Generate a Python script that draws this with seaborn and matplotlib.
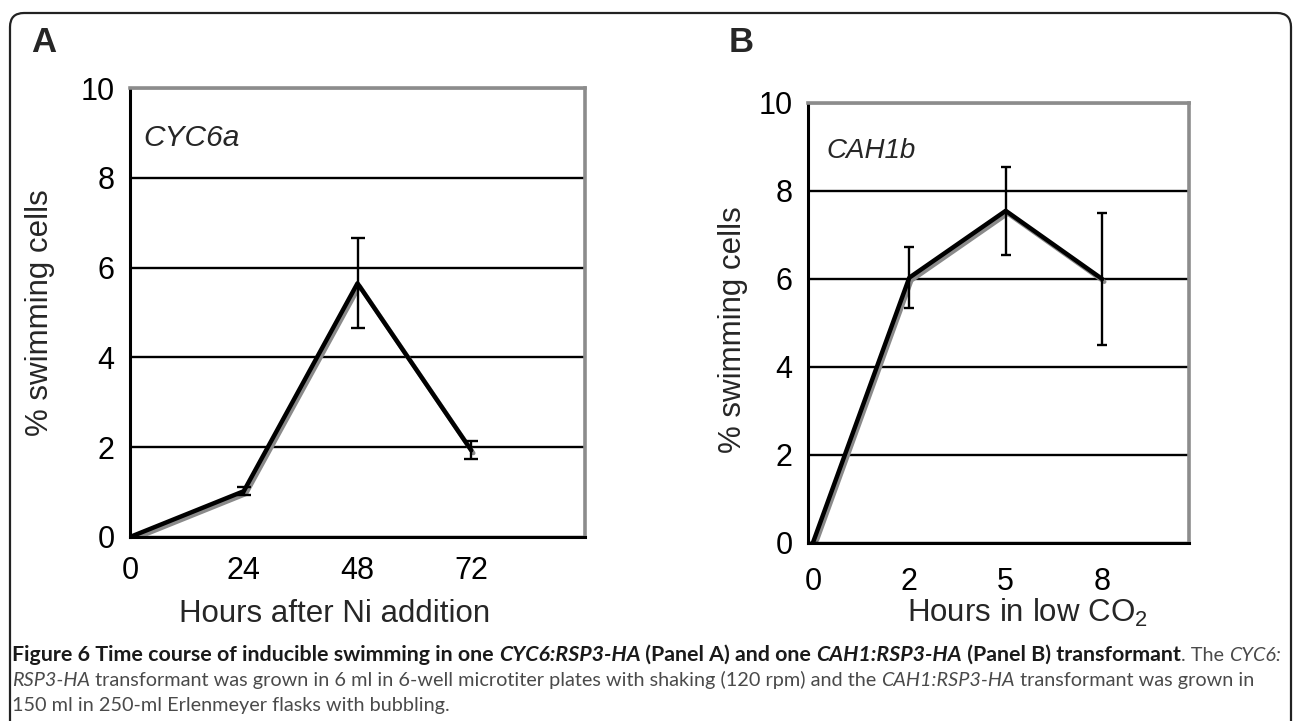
import numpy as np
import pandas as pd
import seaborn as sns
import matplotlib
matplotlib.use("Agg")
import matplotlib.pyplot as plt
import matplotlib.patheffects as pe
from matplotlib.patches import FancyBboxPatch
from matplotlib.transforms import IdentityTransform

# ---------------- data ----------------
hours_a = [0, 24, 48, 72]
swim_a = [0.0, 1.02, 5.65, 1.93]
err_a = [0.0, 0.09, 1.0, 0.2]

hours_b_labels = ["0", "2", "5", "8"]
swim_b = [0.0, 6.03, 7.55, 6.0]
err_b = [0.0, 0.7, 1.0, 1.5]

y_ticks = [0, 2, 4, 6, 8, 10]

# ---------------- style ----------------
sns.set_theme(style="white")
plt.rcParams["font.family"] = ["Liberation Sans", "DejaVu Sans"]
plt.rcParams["mathtext.fontset"] = "custom"
plt.rcParams["mathtext.rm"] = "Liberation Sans"
plt.rcParams["mathtext.it"] = "Liberation Sans:italic"

W, H = 1293, 721
fig = plt.figure(figsize=(W / 100, H / 100), dpi=100)
fig.patch.set_facecolor("white")


def rect(l, t, r, b):
    return [l / W, 1 - b / H, (r - l) / W, (b - t) / H]


def px(x, y):
    return x / W, 1 - y / H


axA = fig.add_axes(rect(130, 88, 585, 537))
axB = fig.add_axes(rect(808, 103, 1189, 543))

shadow = [pe.SimpleLineShadow(offset=(1.5, -2.0), shadow_color="#8a8a8a", alpha=1.0), pe.Normal()]

dfA = pd.DataFrame({"hours": hours_a, "swim": swim_a})
sns.lineplot(data=dfA, x="hours", y="swim", ax=axA, color="black", lw=3.2,
             path_effects=shadow, sort=False, errorbar=None)
axA.errorbar(hours_a, swim_a, yerr=err_a, fmt="none", ecolor="black",
             elinewidth=1.7, capsize=5, capthick=1.7, zorder=5)

xb = np.arange(len(hours_b_labels))
dfB = pd.DataFrame({"pos": xb, "swim": swim_b})
sns.lineplot(data=dfB, x="pos", y="swim", ax=axB, color="black", lw=3.2,
             path_effects=shadow, sort=False, errorbar=None)
axB.errorbar(xb, swim_b, yerr=err_b, fmt="none", ecolor="black",
             elinewidth=1.7, capsize=3.5, capthick=1.7, zorder=5)

for ax in (axA, axB):
    ax.set_ylim(0, 10)
    ax.set_yticks(y_ticks)
    ax.set_yticklabels([str(v) for v in y_ticks])
    ax.yaxis.grid(True, color="black", lw=1.7)
    ax.xaxis.grid(False)
    ax.set_axisbelow(True)
    ax.set_xlabel("")
    ax.set_ylabel("")
    ax.tick_params(axis="y", labelsize=22, length=0, pad=11, colors="black")
    ax.tick_params(axis="x", labelsize=22, length=0, pad=14, colors="black")
    for s in ("left", "bottom"):
        ax.spines[s].set_color("black")
        ax.spines[s].set_linewidth(2.2)
    for s in ("top", "right"):
        ax.spines[s].set_color("#8c8c8c")
        ax.spines[s].set_linewidth(2.6)
    ax.set_facecolor("white")

axA.set_xlim(0, 96)
axA.set_xticks(hours_a)
axA.set_xticklabels([str(h) for h in hours_a])

axB.set_xlim(-0.05, 3.9)
axB.set_xticks(xb)
axB.set_xticklabels(hours_b_labels)
axB.tick_params(axis="x", pad=17)

# in-plot italic labels
fig.text(*px(143, 146), "CYC6a", fontsize=21.5, style="italic", va="baseline", ha="left")
fig.text(*px(826, 158), "CAH1b", fontsize=20, style="italic", va="baseline", ha="left")

# panel letters
fig.text(*px(44, 42), "A", fontsize=25, fontweight="bold", ha="center", va="center")
fig.text(*px(741, 43), "B", fontsize=25, fontweight="bold", ha="center", va="center")

# axis labels
fig.text(*px(40, 313), "% swimming cells", fontsize=22.5, rotation=90, ha="center", va="center")
fig.text(*px(733, 330), "% swimming cells", fontsize=22.5, rotation=90, ha="center", va="center")
fig.text(*px(179, 622), "Hours after Ni addition", fontsize=22.5, ha="left", va="baseline")
fig.text(*px(907, 622), "Hours in low CO$_2$", fontsize=22.5, ha="left", va="baseline")

# outer rounded frame
frame = FancyBboxPatch((10, -60), 1281, H - 13 + 60,
                       boxstyle="round,pad=0,rounding_size=14",
                       transform=IdentityTransform(), fill=False,
                       edgecolor="#222222", lw=1.6, clip_on=False)
fig.patches.append(frame)

# caption
cap_font = ["Lato", "DejaVu Sans"]
dark = "#1a1a1a"
grey = "#4a4a4a"
line1_bold = [
    ("Figure 6 Time course of inducible swimming in one ", "bold", "normal", dark),
    ("CYC6:RSP3-HA", "bold", "italic", dark),
    (" (Panel A) and one ", "bold", "normal", dark),
    ("CAH1:RSP3-HA", "bold", "italic", dark),
    (" (Panel B) transformant", "bold", "normal", dark),
]
line1_reg = [
    (". The ", "normal", "normal", grey),
    ("CYC6:", "normal", "italic", grey),
]
line2 = [
    ("RSP3-HA", "normal", "italic", grey),
    (" transformant was grown in 6 ml in 6-well microtiter plates with shaking (120 rpm) and the ", "normal", "normal", grey),
    ("CAH1:RSP3-HA", "normal", "italic", grey),
    (" transformant was grown in", "normal", "normal", grey),
]
line3 = [
    ("150 ml in 250-ml Erlenmeyer flasks with bubbling.", "normal", "normal", grey),
]

renderer = fig.canvas.get_renderer()


def draw_segments(segs, x0, ybase, fs):
    x = x0
    arts = []
    for txt, wt, st, col in segs:
        t = fig.text(*px(x, ybase), txt, fontsize=fs, fontweight=wt, fontstyle=st,
                     color=col, family=cap_font, va="baseline", ha="left")
        bb = t.get_window_extent(renderer)
        x += bb.width
        arts.append(t)
    return x, arts


def fitted_size(segs, x0, target, fs0=12.0):
    xend, arts = draw_segments(segs, x0, 661, fs0)
    for a in arts:
        a.remove()
    return fs0 * (target - x0) / (xend - x0)


fs_reg = fitted_size(line2, 12, 1253)
fs_bold = fitted_size(line1_bold, 12, 1177)
xb_end, _ = draw_segments(line1_bold, 12, 661, fs_bold)
draw_segments(line1_reg, xb_end, 661, fs_reg)
draw_segments(line2, 12, 686, fs_reg)
draw_segments(line3, 12, 711, fs_reg)

fig.savefig("out.png", dpi=100, facecolor="white")
